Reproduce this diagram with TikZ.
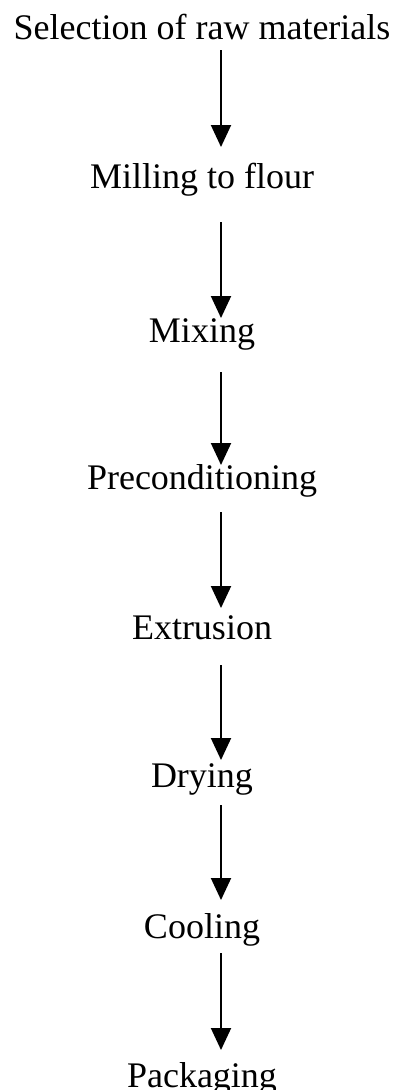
\documentclass[tikz,border=0pt]{standalone}
\usepackage{fontspec}
\setmainfont{Liberation Serif}
\usetikzlibrary{arrows.meta}
\begin{document}
\begin{tikzpicture}[
  stepnode/.style={anchor=base, inner sep=0pt, font=\fontsize{36pt}{42pt}\selectfont},
  flow/.style={line width=2pt, -{Triangle[width=20pt,length=22pt]}}
]
\useasboundingbox (0pt,0pt) rectangle (397pt,-1090pt);
% process steps, placed by baseline
\node[stepnode] (sel) at (202pt,-39pt)   {Selection of raw materials};
\node[stepnode] (mil) at (202pt,-188pt)  {Milling to flour};
\node[stepnode] (mix) at (202pt,-342pt)  {Mixing};
\node[stepnode] (pre) at (202pt,-489pt)  {Preconditioning};
\node[stepnode] (ext) at (202pt,-639pt)  {Extrusion};
\node[stepnode] (dry) at (202pt,-787pt)  {Drying};
\node[stepnode] (coo) at (202pt,-938pt)  {Cooling};
\node[stepnode] (pac) at (202pt,-1087pt) {Packaging};
% arrows between consecutive steps
\draw[flow] ([shift={(19pt,-11pt)}]sel.base) -- ([shift={(19pt,41pt)}]mil.base);
\draw[flow] ([shift={(19pt,-34pt)}]mil.base) -- ([shift={(19pt,24pt)}]mix.base);
\draw[flow] ([shift={(19pt,-30pt)}]mix.base) -- ([shift={(19pt,24pt)}]pre.base);
\draw[flow] ([shift={(19pt,-23pt)}]pre.base) -- ([shift={(19pt,31pt)}]ext.base);
\draw[flow] ([shift={(19pt,-26pt)}]ext.base) -- ([shift={(19pt,27pt)}]dry.base);
\draw[flow] ([shift={(19pt,-18pt)}]dry.base) -- ([shift={(19pt,38pt)}]coo.base);
\draw[flow] ([shift={(19pt,-15pt)}]coo.base) -- ([shift={(19pt,37pt)}]pac.base);
\end{tikzpicture}
\end{document}
